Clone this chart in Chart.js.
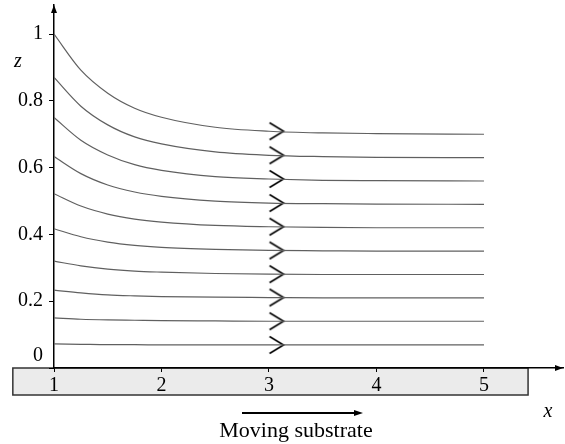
<!DOCTYPE html>
<html>
<head>
<meta charset="utf-8">
<script src="https://cdn.jsdelivr.net/npm/chart.js@4.4.1/dist/chart.umd.min.js"></script>
<style>
  html, body { margin: 0; padding: 0; background: #fff; }
  #wrap { width: 565px; height: 444px; }
</style>
</head>
<body>
<div id="wrap"><canvas id="flow" width="565" height="444"></canvas></div>
<script>
// sample positions along x
const xs = [1, 1.25, 1.5, 1.75, 2, 2.5, 3, 3.5, 4, 5];

// streamline heights z at each x (top line first)
const line1 = [1.0, 0.892, 0.823, 0.778, 0.751, 0.721, 0.709, 0.704, 0.702, 0.70];
const line2 = [0.87, 0.784, 0.728, 0.692, 0.671, 0.647, 0.637, 0.633, 0.631, 0.63];
const line3 = [0.75, 0.682, 0.638, 0.609, 0.592, 0.573, 0.566, 0.562, 0.561, 0.56];
const line4 = [0.633, 0.582, 0.548, 0.527, 0.514, 0.500, 0.494, 0.492, 0.491, 0.49];
const line5 = [0.522, 0.485, 0.461, 0.446, 0.437, 0.427, 0.423, 0.421, 0.420, 0.42];
const line6 = [0.417, 0.393, 0.377, 0.367, 0.361, 0.355, 0.352, 0.351, 0.350, 0.35];
const line7 = [0.32, 0.306, 0.296, 0.290, 0.287, 0.283, 0.281, 0.280, 0.280, 0.28];
const line8 = [0.233, 0.225, 0.219, 0.216, 0.214, 0.212, 0.211, 0.210, 0.210, 0.21];
const line9 = [0.15, 0.146, 0.144, 0.143, 0.142, 0.141, 0.140, 0.140, 0.140, 0.14];
const line10 = [0.072, 0.071, 0.070, 0.070, 0.069, 0.069, 0.069, 0.069, 0.069, 0.069];
const lines = [line1, line2, line3, line4, line5, line6, line7, line8, line9, line10];

// direction arrows sit just past x = 3
const arrowX = 3.07;
const arrowZ = lines.map(l => l[xs.indexOf(3)]);

const xTicks = [1, 2, 3, 4, 5];
const zTicks = [0, 0.2, 0.4, 0.6, 0.8, 1];

const serif = '"Liberation Serif", "DejaVu Serif", serif';

// chevron ">" used as point style
const chevron = document.createElement('canvas');
chevron.width = 20;
chevron.height = 20;
(function () {
  const c = chevron.getContext('2d');
  c.strokeStyle = '#000';
  c.lineWidth = 1.6;
  c.lineJoin = 'miter';
  c.beginPath();
  c.moveTo(3, 1.5);
  c.lineTo(17, 10);
  c.lineTo(3, 18.5);
  c.stroke();
})();

const datasets = lines.map(l => ({
  type: 'line',
  data: xs.map((x, i) => ({ x: x, y: l[i] })),
  borderColor: '#606060',
  borderWidth: 1.2,
  pointRadius: 0,
  cubicInterpolationMode: 'monotone',
  fill: false
}));
datasets.push({
  type: 'scatter',
  data: arrowZ.map(z => ({ x: arrowX, y: z })),
  pointStyle: chevron,
  pointRadius: 10,
  showLine: false
});

function arrowHead(ctx, x, y, dir) {
  ctx.beginPath();
  if (dir === 'up') {
    ctx.moveTo(x, y);
    ctx.lineTo(x - 3, y + 8);
    ctx.lineTo(x + 3, y + 8);
  } else {
    ctx.moveTo(x, y);
    ctx.lineTo(x - 8, y - 3);
    ctx.lineTo(x - 8, y + 3);
  }
  ctx.closePath();
  ctx.fill();
}

function noPad(s) {
  s.paddingTop = 0;
  s.paddingBottom = 0;
  s.paddingLeft = 0;
  s.paddingRight = 0;
}

const decor = {
  id: 'decor',
  beforeDraw(chart) {
    const { ctx, scales } = chart;
    const x0 = scales.x.getPixelForValue(0.617);
    const x1 = scales.x.getPixelForValue(5.41);
    const top = scales.y.getPixelForValue(0);
    ctx.save();
    ctx.fillStyle = '#ebebeb';
    ctx.strokeStyle = '#333';
    ctx.lineWidth = 1.5;
    ctx.fillRect(x0, top, x1 - x0, 27);
    ctx.strokeRect(x0, top, x1 - x0, 27);
    ctx.restore();
  },
  afterDraw(chart) {
    const { ctx, scales, chartArea } = chart;
    const ax = scales.x.getPixelForValue(1);
    const ay = scales.y.getPixelForValue(0);
    ctx.save();
    ctx.fillStyle = '#000';
    arrowHead(ctx, ax, chartArea.top, 'up');
    arrowHead(ctx, chartArea.right, ay, 'right');

    ctx.font = '20px ' + serif;
    ctx.textAlign = 'right';
    ctx.textBaseline = 'middle';
    ctx.fillText('0', 43, ay - 12);

    ctx.font = 'italic 20px ' + serif;
    ctx.textAlign = 'center';
    ctx.fillText('z', 18, 62);
    ctx.fillText('x', 548, 412);

    ctx.font = '22px ' + serif;
    ctx.textBaseline = 'alphabetic';
    ctx.fillText('Moving substrate', 296, 437);

    // substrate direction arrow
    ctx.strokeStyle = '#000';
    ctx.lineWidth = 2;
    ctx.beginPath();
    ctx.moveTo(242, 413);
    ctx.lineTo(356, 413);
    ctx.stroke();
    ctx.beginPath();
    ctx.moveTo(363, 413);
    ctx.lineTo(354, 410);
    ctx.lineTo(354, 416);
    ctx.closePath();
    ctx.fill();
    ctx.restore();
  }
};

new Chart(document.getElementById('flow'), {
  data: { datasets: datasets },
  plugins: [decor],
  options: {
    responsive: false,
    animation: false,
    devicePixelRatio: 1,
    layout: { autoPadding: false, padding: { top: 5, right: 2, left: 0, bottom: 0 } },
    plugins: { legend: { display: false }, tooltip: { enabled: false } },
    scales: {
      x: {
        type: 'linear',
        min: 1,
        max: 5.735,
        afterFit: s => { s.height = 76; noPad(s); },
        afterBuildTicks: s => { s.ticks = xTicks.map(v => ({ value: v })); },
        grid: { drawOnChartArea: false, tickLength: 4, color: '#000', lineWidth: 1 },
        border: { display: true, color: '#000', width: 1.5 },
        ticks: {
          color: '#000',
          padding: 2,
          font: { family: serif, size: 20 },
          callback: v => String(v)
        }
      },
      y: {
        type: 'linear',
        min: 0,
        max: 1.087,
        afterFit: s => { s.width = 54; noPad(s); },
        afterBuildTicks: s => { s.ticks = zTicks.map(v => ({ value: v })); },
        grid: { drawOnChartArea: false, tickLength: 5, color: '#000', lineWidth: 1 },
        border: { display: true, color: '#000', width: 1.5 },
        ticks: {
          color: '#000',
          padding: 6,
          font: { family: serif, size: 20 },
          callback: v => (v === 0 ? '' : String(v))
        }
      }
    }
  }
});
</script>
</body>
</html>
